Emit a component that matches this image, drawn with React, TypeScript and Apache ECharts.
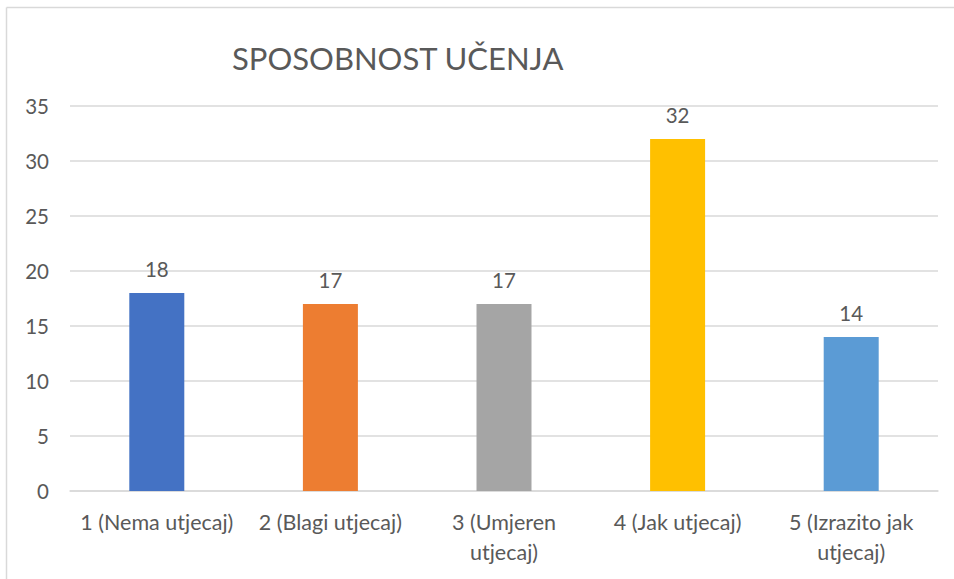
import React, { useEffect, useRef } from "react";
import * as echarts from "echarts";

const categories = ["1 (Nema utjecaj)", "2 (Blagi utjecaj)", "3 (Umjeren\nutjecaj)", "4 (Jak utjecaj)", "5 (Izrazito jak\nutjecaj)"];
const values = [18, 17, 17, 32, 14];
const barColors = ["#4472C4", "#ED7D31", "#A5A5A5", "#FFC000", "#5B9BD5"];
const titleText = "SPOSOBNOST UČENJA";

const FONT = "Lato, 'Open Sans', sans-serif";
const TEXT = "#595959";

export default function App() {
  const ref = useRef<HTMLDivElement>(null);
  useEffect(() => {
    const chart = echarts.init(ref.current!, null, { renderer: "svg" });
    chart.setOption({
      animation: false,
      backgroundColor: "#ffffff",
      title: {
        text: titleText,
        left: 227,
        top: 37,
        textStyle: { fontFamily: FONT, fontSize: 31, fontWeight: "normal", color: TEXT },
      },
      graphic: [
        { type: "line", shape: { x1: 6.5, y1: 7.5, x2: 960, y2: 7.5 }, style: { stroke: "#d9d9d9", lineWidth: 1.5 } },
        { type: "line", shape: { x1: 6.5, y1: 7.5, x2: 6.5, y2: 600 }, style: { stroke: "#d9d9d9", lineWidth: 1.5 } },
      ],
      grid: { left: 70, right: 16, top: 106, bottom: 88, containLabel: false },
      xAxis: {
        type: "category",
        data: categories,
        axisLine: { lineStyle: { color: "#d9d9d9", width: 1.5 } },
        axisTick: { show: false },
        axisLabel: { fontFamily: FONT, fontSize: 21.5, color: TEXT, margin: 16, lineHeight: 30, interval: 0 },
      },
      yAxis: {
        type: "value",
        min: 0,
        max: 35,
        interval: 5,
        axisLine: { show: false },
        axisTick: { show: false },
        splitLine: { lineStyle: { color: "#d9d9d9", width: 1.5 } },
        axisLabel: { fontFamily: FONT, fontSize: 20.5, color: TEXT, margin: 21 },
      },
      series: [
        {
          type: "bar",
          barWidth: 55,
          data: values.map((v, i) => ({ value: v, itemStyle: { color: barColors[i] } })),
          label: {
            show: true,
            position: "top",
            distance: 14,
            fontFamily: FONT,
            fontSize: 20.5,
            color: TEXT,
          },
        },
      ],
    });
    return () => chart.dispose();
  }, []);
  return <div ref={ref} style={{ position: "fixed", left: 0, top: 0, width: 954, height: 579 }} />;
}
